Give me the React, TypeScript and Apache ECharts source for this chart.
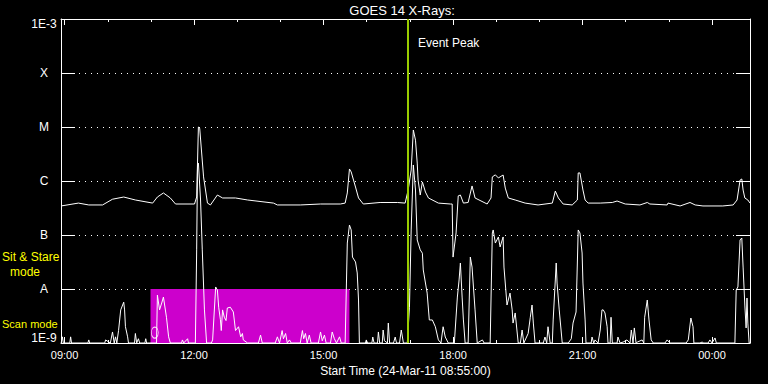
import React, { useEffect, useRef } from 'react';
import * as echarts from 'echarts';

// Time axis in hours of day (24 = 00:00 next day). Start 08:55.
const X_MIN = 8.9167;
const X_MAX = 24.88;
const majorHours = [9, 12, 15, 18, 21, 24];
const minorHours = [10, 11, 13, 14, 16, 17, 19, 20, 22, 23];
const yTickLabels = ['1E-9', 'A', 'B', 'C', 'M', 'X', '1E-3'];

const scanStart = 10.99;
const scanEnd = 15.6;
const scanTop = 1e-8;
const eventPeak = 16.94;
const scanMarker = [[11.09, 1.56e-9]];

// GOES long channel (1-8 A), [hour, W/m^2]
const longChannel = [
  [8.92, 3.45e-7], [9.32, 3.9e-7], [9.56, 3.6e-7], [9.88, 3.6e-7], [10.11, 4.6e-7], [10.37, 5.05e-7],
  [10.64, 4.45e-7], [11.04, 3.9e-7], [11.15, 5.05e-7], [11.29, 6.0e-7], [11.45, 4.85e-7], [11.57, 3.75e-7],
  [12.01, 3.75e-7], [12.06, 5.05e-7], [12.1, 1.0e-5], [12.13, 9.5e-6], [12.22, 1.19e-6], [12.31, 3.9e-7],
  [12.38, 3.6e-7], [12.54, 5.5e-7], [12.66, 4.85e-7], [12.96, 4.85e-7], [13.24, 4.45e-7], [13.84, 3.9e-7],
  [13.93, 3.6e-7], [14.46, 3.6e-7], [14.93, 3.75e-7], [15.39, 3.75e-7], [15.5, 3.9e-7], [15.55, 6.0e-7],
  [15.6, 1.67e-6], [15.64, 1.47e-6], [15.74, 7.74e-7], [15.81, 4.85e-7], [15.92, 3.75e-7], [16.31, 4.0e-7],
  [16.71, 4.0e-7], [16.89, 3.9e-7], [16.96, 6.8e-7], [17.03, 1.6e-6], [17.08, 8.8e-6], [17.13, 5.7e-6],
  [17.17, 2.15e-6], [17.19, 1.04e-6], [17.24, 5.5e-7], [17.29, 9.6e-7], [17.36, 6.25e-7], [17.43, 4.85e-7],
  [17.66, 3.9e-7], [17.94, 3.75e-7], [17.98, 3.75e-7], [18.0, 3.9e-8], [18.07, 1.09e-7], [18.12, 5.3e-7],
  [18.17, 5.5e-7], [18.24, 3.9e-7], [18.35, 4.0e-7], [18.44, 8.1e-7], [18.51, 4.85e-7], [18.79, 3.75e-7],
  [18.88, 4.85e-7], [18.91, 1.19e-6], [18.98, 1.3e-6], [19.05, 1.14e-6], [19.16, 1.29e-6], [19.21, 7.4e-7],
  [19.28, 4.85e-7], [19.44, 4.45e-7], [19.67, 3.9e-7], [19.97, 3.6e-7], [20.3, 3.9e-7], [20.37, 6.5e-7],
  [20.44, 4.85e-7], [20.55, 3.75e-7], [20.76, 3.6e-7], [20.88, 4.45e-7], [20.9, 1.41e-6], [20.94, 1.41e-6],
  [21.01, 6.8e-7], [21.06, 4.45e-7], [21.13, 3.9e-7], [21.41, 3.9e-7], [21.69, 4.0e-7], [21.8, 4.26e-7],
  [21.99, 3.75e-7], [22.33, 3.6e-7], [22.5, 4.0e-7], [22.56, 3.75e-7], [22.96, 3.6e-7], [22.98, 3.9e-7],
  [23.26, 3.45e-7], [23.49, 4.0e-7], [23.61, 3.6e-7], [23.79, 3.45e-7], [24.25, 3.45e-7], [24.49, 3.6e-7],
  [24.58, 4.45e-7], [24.65, 1.04e-6], [24.69, 1.09e-6], [24.72, 6.8e-7], [24.76, 4.85e-7], [24.83, 4.45e-7],
  [24.88, 3.9e-7],
];

// GOES short channel (0.5-4 A), [hour, W/m^2]
const shortChannel = [
  [8.92, 1e-9], [8.95, 1.3e-9], [8.97, 1e-9], [9.12, 1e-9], [9.14, 1.3e-9], [9.16, 1e-9],
  [9.54, 1e-9], [9.56, 1.14e-9], [9.58, 1e-9], [9.93, 1e-9], [9.95, 1.14e-9], [10.06, 1e-9],
  [10.11, 1.6e-9], [10.15, 1e-9], [10.18, 1.3e-9], [10.21, 1e-9], [10.25, 1.7e-9], [10.3, 4.1e-9],
  [10.37, 5.7e-9], [10.39, 4.1e-9], [10.41, 2.0e-9], [10.46, 1.3e-9], [10.48, 1e-9], [10.62, 1e-9],
  [10.64, 1.5e-9], [10.67, 1e-9], [10.71, 1.2e-9], [10.74, 1e-9], [10.86, 1e-9], [10.88, 1.2e-9],
  [10.9, 1e-9], [11.13, 1e-9], [11.15, 7.7e-9], [11.2, 4.1e-9], [11.25, 5.5e-9], [11.29, 7.1e-9],
  [11.36, 3.0e-9], [11.41, 1.3e-9], [11.45, 1e-9], [11.71, 1e-9], [11.73, 1.14e-9], [11.76, 1e-9],
  [11.85, 1.2e-9], [11.87, 1e-9], [12.03, 1e-9], [12.06, 5.3e-8], [12.08, 2.0e-6], [12.1, 2.15e-6],
  [12.15, 4.45e-7], [12.19, 5.3e-8], [12.24, 4.1e-9], [12.29, 1e-9], [12.4, 1e-9], [12.43, 1.14e-9],
  [12.5, 1.09e-8], [12.54, 9.6e-9], [12.57, 4.6e-9], [12.61, 2.7e-9], [12.63, 1.7e-9], [12.66, 4.1e-9],
  [12.7, 3.0e-9], [12.74, 2.6e-9], [12.77, 4.45e-9], [12.84, 4.6e-9], [12.91, 3.75e-9], [12.96, 1.7e-9],
  [13.03, 2.0e-9], [13.08, 1.3e-9], [13.12, 1.5e-9], [13.14, 1.14e-9], [13.24, 1e-9], [13.49, 1e-9],
  [13.54, 1.4e-9], [13.58, 1e-9], [13.88, 1e-9], [13.93, 1.3e-9], [13.98, 1e-9], [14.04, 1.7e-9],
  [14.07, 1.2e-9], [14.12, 1.5e-9], [14.16, 1e-9], [14.21, 1.14e-9], [14.25, 1e-9], [14.46, 1e-9],
  [14.51, 1.7e-9], [14.54, 1.2e-9], [14.58, 1.5e-9], [14.62, 1e-9], [14.67, 1.4e-9], [14.71, 1e-9],
  [14.88, 1e-9], [14.93, 1.6e-9], [14.97, 1.1e-9], [15.02, 1.4e-9], [15.06, 1e-9], [15.16, 1e-9],
  [15.2, 1.6e-9], [15.25, 1.2e-9], [15.3, 1e-9], [15.37, 1.3e-9], [15.41, 1e-9], [15.5, 1e-9],
  [15.53, 1.29e-8], [15.55, 7.1e-8], [15.6, 1.53e-7], [15.64, 1.24e-7], [15.67, 3.9e-8], [15.74, 3.17e-8],
  [15.78, 1.98e-8], [15.81, 6.25e-9], [15.83, 1e-9], [15.97, 1e-9], [15.99, 1.14e-9], [16.02, 1e-9],
  [16.12, 1e-9], [16.14, 1.29e-9], [16.17, 1e-9], [16.25, 1e-9], [16.27, 1.6e-9], [16.3, 1e-9],
  [16.36, 1e-9], [16.38, 1.74e-9], [16.41, 1.1e-9], [16.48, 1e-9], [16.5, 2.34e-9], [16.53, 1e-9],
  [16.62, 1e-9], [16.66, 1.29e-9], [16.69, 1e-9], [16.76, 1e-9], [16.8, 1.74e-9], [16.85, 1e-9],
  [16.94, 1e-9], [16.99, 4.6e-9], [17.03, 1.24e-7], [17.08, 1.98e-6], [17.13, 6.8e-7], [17.17, 8.1e-8],
  [17.24, 5.3e-8], [17.29, 4.6e-8], [17.31, 2.25e-8], [17.4, 8.4e-9], [17.45, 2.67e-9], [17.52, 2.67e-9],
  [17.59, 2.0e-9], [17.66, 1.14e-9], [17.72, 1e-9], [17.77, 2.0e-9], [17.82, 1.29e-9], [17.89, 1e-9],
  [18.03, 1e-9], [18.1, 7.1e-9], [18.14, 1.47e-8], [18.17, 3.03e-8], [18.21, 7.1e-9], [18.24, 2.67e-9],
  [18.28, 1e-9], [18.35, 1e-9], [18.4, 3.9e-8], [18.44, 2.55e-8], [18.51, 4.1e-9], [18.56, 1e-9],
  [18.68, 1.14e-9], [18.72, 1e-9], [18.86, 1e-9], [18.91, 1.09e-7], [18.93, 1.24e-7], [18.98, 7.1e-8],
  [19.05, 9.2e-8], [19.09, 6.0e-8], [19.16, 9.2e-8], [19.18, 2.55e-8], [19.25, 5.05e-9], [19.32, 8.4e-9],
  [19.37, 4.1e-9], [19.39, 2.34e-9], [19.44, 3.6e-9], [19.51, 1e-9], [19.56, 1e-9], [19.6, 1.74e-9],
  [19.64, 1e-9], [19.74, 1.5e-9], [19.79, 3.0e-9], [19.83, 5.05e-9], [19.86, 2.34e-9], [19.9, 1e-9],
  [20.09, 1e-9], [20.13, 1.29e-9], [20.17, 1e-9], [20.2, 2.0e-9], [20.25, 1e-9], [20.3, 1e-9],
  [20.32, 2.67e-9], [20.39, 3.03e-8], [20.41, 1.29e-8], [20.46, 4.1e-9], [20.53, 1e-9], [20.67, 1e-9],
  [20.74, 1.2e-9], [20.78, 2.34e-9], [20.85, 3.75e-9], [20.9, 1.24e-7], [20.94, 1.09e-7], [20.99, 4.64e-8],
  [21.01, 1.29e-8], [21.06, 2.67e-9], [21.08, 1e-9], [21.2, 1e-9], [21.22, 1.29e-9], [21.26, 1e-9],
  [21.29, 1.14e-9], [21.36, 1e-9], [21.41, 1.74e-9], [21.45, 4.1e-9], [21.48, 4.1e-9], [21.52, 3.6e-9],
  [21.57, 2.0e-9], [21.59, 1e-9], [21.64, 1e-9], [21.66, 3.0e-9], [21.69, 1e-9], [21.8, 1e-9],
  [21.82, 1.29e-9], [21.87, 1e-9], [21.94, 1.04e-9], [22.03, 1.14e-9], [22.1, 1e-9], [22.13, 1.74e-9],
  [22.17, 1e-9], [22.2, 1.9e-9], [22.24, 1e-9], [22.27, 1.04e-9], [22.38, 1.14e-9], [22.42, 1e-9],
  [22.44, 3.0e-9], [22.5, 6.25e-9], [22.54, 2.67e-9], [22.59, 1.14e-9], [22.64, 1e-9], [22.91, 1e-9],
  [22.96, 1.14e-9], [23.03, 1e-9], [23.4, 1e-9], [23.45, 1.14e-9], [23.51, 2.9e-9], [23.56, 2.0e-9],
  [23.58, 1e-9], [23.72, 1e-9], [23.77, 1.04e-9], [23.81, 1e-9], [23.91, 1e-9], [23.95, 1.14e-9],
  [24.0, 1e-9], [24.07, 1.24e-9], [24.1, 1e-9], [24.53, 1e-9], [24.56, 9.6e-9], [24.6, 1.09e-8],
  [24.65, 8.1e-8], [24.69, 8.8e-8], [24.72, 2.55e-8], [24.76, 5.05e-9], [24.79, 1.9e-9], [24.81, 6.8e-9],
  [24.83, 2.34e-9], [24.86, 1e-9], [24.88, 1e-9],
];

const FONT = 'Liberation Sans';

function hourLabel(v: number) {
  const h = Math.round(v) % 24;
  return (h < 10 ? '0' : '') + h + ':00';
}

function xAxisDef(position: 'top' | 'bottom', ticks: number[], len: number, labels: boolean, line: boolean, name?: string) {
  return {
    type: 'value',
    position,
    min: X_MIN,
    max: X_MAX,
    name: name || '',
    nameLocation: 'middle',
    nameGap: 19,
    nameTextStyle: { color: '#fff', fontFamily: FONT, fontSize: 12, verticalAlign: 'top' },
    axisLine: { show: line, onZero: false, lineStyle: { color: '#fff', width: 1 } },
    axisTick: { show: true, inside: true, length: len, customValues: ticks, lineStyle: { color: '#fff' } },
    axisLabel: labels
      ? { show: true, customValues: majorHours, formatter: hourLabel, color: '#fff', fontFamily: FONT, fontSize: 11, margin: 6 }
      : { show: false },
    splitLine: { show: false },
  };
}

function yLabel(v: number) {
  const i = Math.round(Math.log10(v)) + 9;
  const t = yTickLabels[i] ?? '';
  if (i === 0) return '{lo|' + t + '}';
  if (i === 6) return '{hi|' + t + '}';
  return t;
}

export default function App() {
  const ref = useRef<HTMLDivElement>(null);
  useEffect(() => {
    document.body.style.margin = '0';
    document.body.style.background = '#000';
    const chart = echarts.init(ref.current!, null, { renderer: 'svg' });
    const richBase = { color: '#fff', fontFamily: FONT, fontSize: 12 };
    chart.setOption({
      animation: false,
      backgroundColor: '#000',
      grid: { left: 61, right: 18, top: 19, bottom: 41, show: false },
      xAxis: [
        xAxisDef('bottom', majorHours, 6, true, true, 'Start Time (24-Mar-11 08:55:00)'),
        xAxisDef('bottom', minorHours, 3, false, false),
        xAxisDef('top', majorHours, 6, false, true),
        xAxisDef('top', minorHours, 3, false, false),
      ],
      yAxis: [
        {
          type: 'log',
          logBase: 10,
          position: 'left',
          min: 1e-9,
          max: 1e-3,
          splitNumber: 6,
          axisLine: { show: true, onZero: false, lineStyle: { color: '#fff', width: 1 } },
          axisTick: { show: true, inside: true, length: 14, lineStyle: { color: '#fff' } },
          axisLabel: {
            show: true,
            formatter: yLabel,
            align: 'center',
            margin: 17,
            color: '#fff',
            fontFamily: FONT,
            fontSize: 12,
            rich: {
              lo: { ...richBase, lineHeight: 22, verticalAlign: 'top' },
              hi: { ...richBase, lineHeight: 22, verticalAlign: 'bottom' },
            },
          },
          splitLine: { show: true, lineStyle: { color: '#fff', width: 1, type: [1, 5] } },
        },
        {
          type: 'log',
          logBase: 10,
          position: 'right',
          min: 1e-9,
          max: 1e-3,
          splitNumber: 6,
          axisLine: { show: true, onZero: false, lineStyle: { color: '#fff', width: 1 } },
          axisTick: { show: true, inside: true, length: 14, lineStyle: { color: '#fff' } },
          axisLabel: { show: false },
          splitLine: { show: false },
        },
      ],
      series: [
        {
          type: 'line',
          name: 'scan',
          data: [],
          z: 1,
          silent: true,
          markArea: {
            silent: true,
            itemStyle: { color: '#cc00cc', opacity: 1 },
            data: [[{ xAxis: scanStart, yAxis: 1e-9 }, { xAxis: scanEnd, yAxis: scanTop }]],
          },
        },
        {
          type: 'line',
          name: 'short',
          data: shortChannel,
          showSymbol: false,
          symbol: 'none',
          z: 3,
          lineStyle: { color: '#fff', width: 1 },
        },
        {
          type: 'line',
          name: 'long',
          data: longChannel,
          showSymbol: false,
          symbol: 'none',
          z: 3,
          lineStyle: { color: '#fff', width: 1 },
        },
        {
          type: 'scatter',
          name: 'marker',
          data: scanMarker,
          symbol: 'circle',
          symbolSize: [7, 11],
          z: 4,
          itemStyle: { color: 'rgba(0,0,0,0)', borderColor: '#fff', borderWidth: 1 },
        },
        {
          type: 'line',
          name: 'peak',
          data: [],
          z: 5,
          silent: true,
          markLine: {
            silent: true,
            symbol: 'none',
            label: { show: false },
            lineStyle: { color: '#99cc00', width: 2, type: 'solid' },
            data: [{ xAxis: eventPeak }],
          },
        },
      ],
      graphic: [
        { type: 'text', x: 402, y: 10, style: { text: 'GOES 14 X-Rays:', fill: '#fff', font: '13px "Liberation Sans"', textAlign: 'center', textVerticalAlign: 'middle' } },
        { type: 'text', x: 418, y: 43, style: { text: 'Event Peak', fill: '#fff', font: '12px "Liberation Sans"', textAlign: 'left', textVerticalAlign: 'middle' } },
        { type: 'text', x: 2, y: 257, style: { text: 'Sit & Stare', fill: '#ffff00', font: '12px "Liberation Sans"', textAlign: 'left', textVerticalAlign: 'middle' } },
        { type: 'text', x: 25, y: 272, style: { text: 'mode', fill: '#ffff00', font: '12px "Liberation Sans"', textAlign: 'center', textVerticalAlign: 'middle' } },
        { type: 'text', x: 2, y: 324, style: { text: 'Scan mode', fill: '#ffff00', font: '11px "Liberation Sans"', textAlign: 'left', textVerticalAlign: 'middle' } },
      ],
    });
    return () => chart.dispose();
  }, []);
  return <div ref={ref} style={{ position: 'absolute', left: 0, top: 0, width: 768, height: 384, background: '#000' }} />;
}
